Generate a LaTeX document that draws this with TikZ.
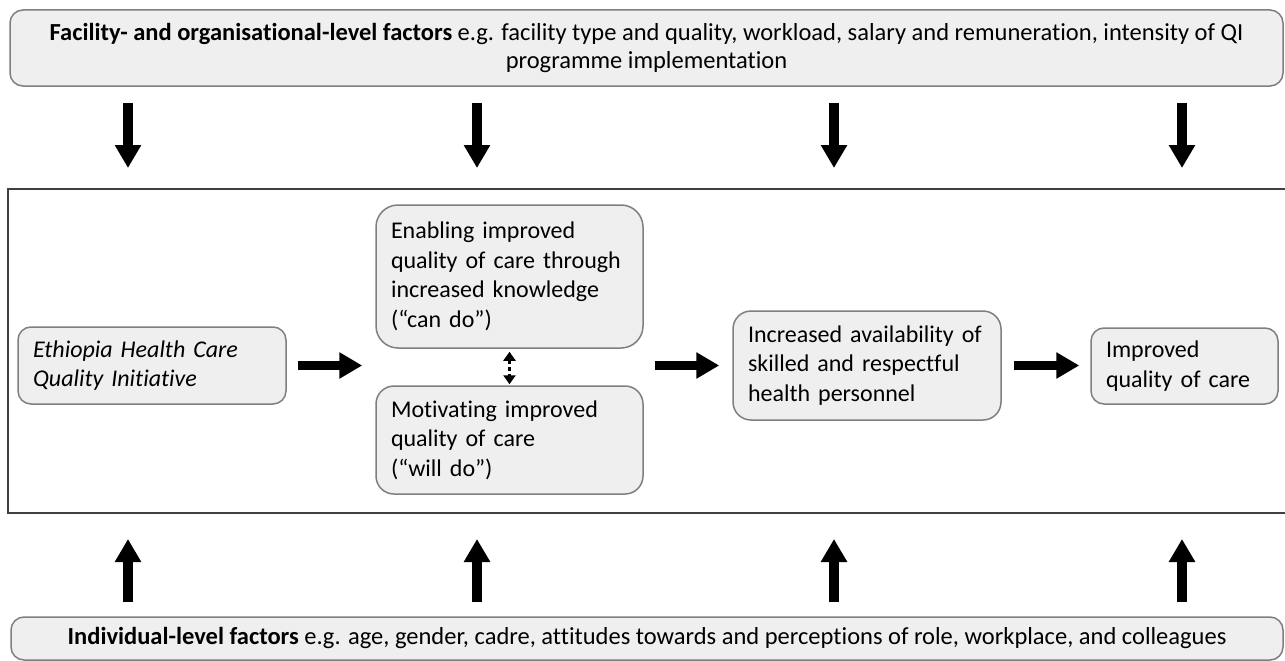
\documentclass[tikz,border=0pt]{standalone}
\usepackage{fontspec}
\setmainfont{Carlito}[Ligatures=NoCommon]
\usetikzlibrary{arrows.meta}
\definecolor{boxfill}{HTML}{EFEFEF}
\definecolor{boxline}{HTML}{7F7F7F}
\definecolor{frameline}{HTML}{404040}
\tikzset{
  outerbox/.style={draw=boxline, line width=1.5pt, fill=boxfill, rounded corners=13pt,
    align=center, inner sep=0pt, font=\fontsize{24.5pt}{27.5pt}\selectfont},
  innerbox/.style={draw=boxline, line width=1.5pt, fill=boxfill, align=left,
    inner xsep=15pt, inner ysep=0pt, font=\fontsize{24pt}{29.5pt}\selectfont},
  bigarrow/.style={line width=9.5pt, -{Triangle[length=23pt,width=25pt]}},
  dotarrow/.style={line width=2.5pt, dash pattern=on 4pt off 3pt,
    {Triangle[length=9pt,width=12pt]}-{Triangle[length=9pt,width=12pt]}}
}
\begin{document}
\begin{tikzpicture}[x=1pt,y=-1pt]
\clip (0,0) rectangle (1285,661);
\fill[white] (0,0) rectangle (1285,661);
% frame
\node[draw=frameline, line width=2pt, anchor=north west, minimum width=1320pt,
  minimum height=324pt, inner sep=0pt] (frame) at (7,188) {};
% top and bottom boxes
\node[outerbox, minimum width=1273pt, minimum height=76pt] (top) at (646.5,48)
  {\textbf{Facility- and organisational-level factors} e.g. facility type and quality, workload, salary and remuneration, intensity of QI\\programme implementation};
\node[outerbox, minimum width=1272pt, minimum height=43pt] (bot) at (647,638.5)
  {\textbf{Individual-level factors} e.g. age, gender, cadre, attitudes towards and perceptions of role, workplace, and colleagues};
% inner boxes
\node[innerbox, text width=238pt, minimum height=77pt, rounded corners=13pt] (eth) at (152,365.5)
  {\textit{Ethiopia Health Care}\\\textit{Quality Initiative}};
\node[innerbox, text width=237pt, minimum height=143pt, rounded corners=22pt] (en) at (509.5,276.5)
  {Enabling improved\\quality of care through\\increased knowledge\\(“can do”)};
\node[innerbox, text width=237pt, minimum height=108pt, rounded corners=18pt] (mo) at (509.5,440)
  {Motivating improved\\quality of care\\(“will do”)};
\node[innerbox, text width=238pt, minimum height=109pt, rounded corners=18pt] (inc) at (867,365.5)
  {Increased availability of\\skilled and respectful\\health personnel};
\node[innerbox, text width=157pt, minimum height=76pt, rounded corners=13pt] (imp) at (1184.5,366)
  {Improved\\quality of care};
% horizontal arrows
\draw[bigarrow] ([xshift=11pt]eth.east) -- ([xshift=-13pt]eth.east -| en.west);
\draw[bigarrow] ([xshift=11pt]inc.west -| en.east) -- ([xshift=-13pt]inc.west);
\draw[bigarrow] ([xshift=12pt]inc.east) -- ([xshift=-11pt]inc.east -| imp.west);
% dotted double arrow
\draw[dotarrow] ([yshift=-3pt]en.south) -- ([yshift=1pt]mo.north);
% vertical arrows
\foreach \i/\x in {1/128,2/477,3/834,4/1182}{
  \coordinate (c\i) at (\x,0);
  \draw[bigarrow] ([yshift=-16pt]top.south -| c\i) -- ([yshift=20pt]frame.north -| c\i);
  \draw[bigarrow] ([yshift=14pt]bot.north -| c\i) -- ([yshift=-25pt]frame.south -| c\i);
}
\end{tikzpicture}
\end{document}
